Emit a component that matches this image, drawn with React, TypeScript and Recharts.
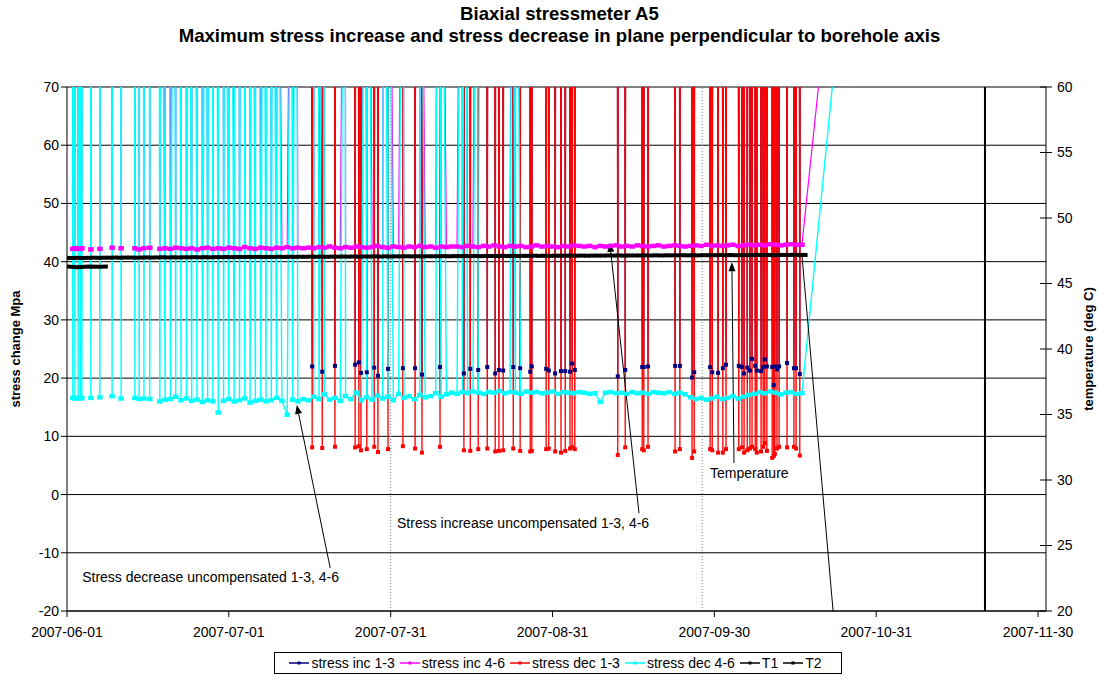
import {
  LineChart, Line, XAxis, YAxis, CartesianGrid, ReferenceLine,
} from 'recharts'

const W = 1099
const H = 679

const DAY_TICKS = [0, 30.5, 61, 91.5, 122, 152.5, 183]
const DAY_LABELS = ['2007-06-01', '2007-07-01', '2007-07-31', '2007-08-31', '2007-09-30', '2007-10-31', '2007-11-30']
const STRESS_TICKS = [-20, -10, 0, 10, 20, 30, 40, 50, 60, 70]
const TEMP_TICKS = [20, 25, 30, 35, 40, 45, 50, 55, 60]

// readings that saturate the gauge, far above the 70 MPa top of the plot
const OFF = 150
const DIP_HALF = 0.14

// first two weeks: 4-6 gauges only give valid readings now and then
const EARLY_DAYS = [1.1, 1.5, 2.1, 2.5, 2.8, 4.5, 6.2, 8.5, 10.2, 12.8, 13.6, 14.5, 15.6]
const EARLY_INC46 = [42.2, 42.3, 42.2, 42.2, 42.3, 42.1, 42.2, 42.4, 42.3, 42.3, 42.1, 42.3, 42.4]
const EARLY_DEC46 = [16.6, 16.5, 16.6, 16.5, 16.6, 16.6, 16.7, 16.9, 16.5, 16.6, 16.4, 16.5, 16.4]

// continuous record, one reading per day from day 17.5
const BASE_START = 17.5
const INC46_BASE = [
  42.2, 42.3, 42.2, 42.4, 42.3, 42.2, 42.3, 42.1, 42.3, 42.4, 42.2, 42.3, 42.2, 42.4,
  42.3, 42.2, 42.5, 42.3, 42.2, 42.4, 42.3, 42.2, 42.4, 42.3, 42.5, 42.3, 42.4, 42.3,
  42.4, 42.3, 42.5, 42.4, 42.6, 42.4, 42.3, 42.5, 42.4, 42.6, 42.5, 42.4, 42.5, 42.7,
  42.5, 42.4, 42.6, 42.5, 42.4, 42.6, 42.5, 42.7, 42.5, 42.6, 42.4, 42.6, 42.5, 42.6,
  42.6, 42.5, 42.7, 42.6, 42.5, 42.7, 42.6, 42.8, 42.6, 42.5, 42.7, 42.6, 42.7, 42.5,
  42.6, 42.8, 42.6, 42.7, 42.6, 42.5, 42.7, 42.6, 42.8, 42.7, 42.6, 42.7, 42.5, 42.7,
  42.6, 42.7, 42.8, 42.6, 42.7, 42.6, 42.8, 42.7, 42.6, 42.7, 42.8, 42.6, 42.7, 42.8,
  42.7, 42.6,
  42.7, 42.8, 42.7, 42.9, 42.7, 42.8, 42.7, 42.8, 42.9, 42.7, 42.8, 42.9,
  42.8, 42.9, 42.8, 43.0, 42.9, 42.8, 42.9, 43.0, 42.9, 42.9,
]
const DEC46_BASE = [
  16.0, 16.3, 16.4, 16.8, 16.2, 16.5, 16.1, 16.3, 15.9, 16.2, 16.0, 14.1, 16.1, 16.4,
  16.0, 16.2, 16.5, 15.8, 16.1, 16.3, 16.0, 16.2, 16.6, 16.1, 13.7, 16.3, 16.0, 16.4,
  16.2, 16.8, 16.4, 17.2, 16.3, 16.6, 16.1, 16.9, 16.4, 17.5, 16.2, 16.7, 16.3, 17.0,
  16.5, 16.8, 16.2, 17.3, 16.6, 16.9, 16.4, 17.1, 16.7, 16.9, 17.4, 16.8, 17.2, 17.5,
  17.3, 17.6, 17.4, 17.7, 17.5, 17.3, 17.6, 17.5, 17.8, 17.4, 17.6, 17.5, 17.3, 17.7,
  17.5, 17.6, 17.4, 17.5, 17.7, 17.3, 17.6, 17.5, 17.4, 17.6, 17.5, 17.3, 17.4, 15.9,
  17.5, 17.6, 17.4, 17.5, 17.3, 17.6, 17.4, 17.5, 17.3, 17.6, 17.5, 17.4, 17.6, 17.3,
  17.5, 17.2,
  16.7, 16.4, 16.6, 16.3, 16.5, 16.8, 16.4, 16.6, 16.9, 16.5, 16.8, 17.1,
  17.3, 17.6, 17.4, 17.7, 17.5, 17.2, 17.5, 17.6, 17.3, 17.4,
]
// days where the 4-6 readings jump off scale
const SPIKE46_DAYS = [
  17.3, 17.7, 18.5, 19.2, 20.2, 20.5, 21.1, 21.5, 22.1, 22.4, 23.0, 23.6, 24.1, 24.5,
  25.1, 25.4, 26.2, 26.8, 27.3, 27.7, 28.1, 28.6, 29.4, 29.8, 30.5, 30.9, 31.7, 32.4,
  32.8, 33.4, 33.7, 34.3, 34.9, 35.6, 36.2, 37.1, 37.7, 38.3, 38.8, 39.6, 42.4, 43.2,
  46.6, 47.3, 48.4, 52.4, 56.2, 56.7, 59.7, 60.5, 63.3, 66.5, 69.9, 70.5, 74.4, 75.0,
  77.3, 83.9, 84.6,
]

// 1-3 gauges are saturated except for these readings
const DIP13_DAYS = [
  46.2, 48.1, 50.5, 54.3, 55.0, 55.4, 56.5, 57.9, 58.6, 60.5, 63.3, 65.6, 66.9, 70.3,
  74.8, 76.0, 77.5, 79.2, 80.7, 81.4, 82.2, 84.1, 85.4, 87.3, 87.6, 90.3, 90.8, 92.0,
  93.1, 93.9, 94.8, 95.2, 95.7, 103.8, 105.2, 108.4, 108.7, 109.5, 114.6, 115.5, 117.8,
  118.2, 121.2, 121.6, 122.7, 123.6, 124.2, 126.6, 127.2, 127.6, 128.2, 128.7, 129.1,
  129.7, 130.0, 130.8, 131.2, 131.5, 131.9, 132.9, 133.2, 133.4, 133.8, 134.2, 135.7,
  137.0, 137.4, 138.1,
]
const INC13_VALUES = [
  22.0, 21.1, 22.1, 22.3, 22.7, 20.9, 21.0, 21.8, 20.4, 21.6, 21.7, 21.7, 20.6, 21.9,
  20.8, 21.6, 21.4, 21.9, 20.8, 21.4, 21.3, 21.9, 21.7, 21.1, 22.0, 21.6, 21.3, 20.8,
  21.2, 21.2, 21.1, 22.5, 21.4, 20.3, 21.4, 21.9, 21.9, 22.0, 22.1, 22.1, 20.1,
  21.0, 21.9, 21.0, 20.9, 21.7, 22.3, 22.1, 21.9, 20.8, 21.8, 21.3, 23.3,
  22.1, 21.3, 21.2, 21.9, 23.2, 22.0, 21.9, 18.8, 22.0, 21.5, 22.0, 22.6,
  21.7, 21.7, 20.7,
]
const DEC13_VALUES = [
  8.1, 8.0, 8.2, 8.1, 8.3, 7.6, 7.8, 8.2, 7.3, 7.8, 8.3, 7.9, 7.2, 8.2,
  7.6, 7.5, 7.8, 7.9, 7.4, 7.5, 7.6, 7.9, 7.5, 7.4, 7.5, 7.8, 7.9, 7.4,
  7.2, 7.5, 7.9, 8.1, 7.8, 6.8, 8.1, 7.8, 7.6, 8.2, 7.4, 7.8, 6.3,
  7.4, 7.8, 7.6, 7.2, 7.2, 7.8, 7.8, 8.1, 7.2, 7.6, 7.9, 8.2,
  7.8, 7.2, 7.4, 8.2, 8.8, 7.5, 6.3, 6.6, 7.0, 7.9, 8.2, 8.1,
  8.2, 7.9, 6.7,
]

// temperature T1, one reading per day from day 0
const T1_VALUES = [
  46.95, 46.95, 46.96, 46.95, 46.96, 46.97, 46.96, 46.97, 46.97, 46.98, 46.97, 46.98, 46.98, 46.97,
  46.98, 46.99, 46.98, 46.99, 47.0, 46.99, 47.0, 46.99, 47.0, 47.0, 47.01, 47.0, 47.01, 47.0,
  47.01, 47.01, 47.02, 47.01, 47.02, 47.02, 47.03, 47.02, 47.03, 47.02, 47.03, 47.03, 47.04, 47.03,
  47.04, 47.03, 47.04, 47.04, 47.05, 47.04, 47.05, 47.04, 47.05, 47.05, 47.06, 47.05, 47.06, 47.05,
  47.06, 47.06, 47.07, 47.06, 47.07, 47.06, 47.07, 47.07, 47.08, 47.07, 47.08, 47.07, 47.08, 47.08,
  47.08, 47.09, 47.08, 47.09, 47.09, 47.1, 47.09, 47.1, 47.09, 47.1, 47.1, 47.1, 47.11, 47.1,
  47.11, 47.1, 47.11, 47.11, 47.12, 47.11, 47.12, 47.11, 47.12, 47.12, 47.12, 47.13, 47.12, 47.13,
  47.12, 47.13, 47.13, 47.13, 47.14, 47.13, 47.14, 47.13, 47.14, 47.14, 47.14, 47.15, 47.14, 47.15,
  47.14, 47.15, 47.15, 47.15, 47.16, 47.15, 47.16, 47.15, 47.16, 47.16, 47.16, 47.17, 47.16, 47.17,
  47.16, 47.17, 47.17, 47.17, 47.18, 47.17, 47.18, 47.17, 47.18, 47.18, 47.18, 47.19, 47.18, 47.18,
]
const T2_DAYS = [-0.5, 2, 4, 6, 7.7]
const T2_VALUES = [46.3, 46.25, 46.3, 46.28, 46.3]

// last logged reading after the record breaks off
const END_DAY = 150
const END_INC46 = 143
const END_DEC46 = 123
const END_T1 = -6

const ANNOTATIONS = [
  { text: 'Stress decrease uncompensated 1-3, 4-6', from: { x: 49.6, y: -12.6 }, to: { x: 43.3, y: 15.4 }, dx: -248, dy: 14 },
  { text: 'Stress increase uncompensated 1-3, 4-6', from: { x: 107.8, y: -3.2 }, to: { x: 102.3, y: 43.2 }, dx: -242, dy: 15 },
  { text: 'Temperature', from: { x: 125.7, y: 5.4 }, to: { x: 125.3, y: 39.9 }, dx: -24, dy: 15 },
]

const COLORS = {
  inc13: '#000080', inc46: '#ff00ff', dec13: '#ff0000', dec46: '#00ffff', t1: '#000000', t2: '#000000',
}

const LEGEND_ITEMS = [
  { name: 'stress inc 1-3', color: COLORS.inc13 },
  { name: 'stress inc 4-6', color: COLORS.inc46 },
  { name: 'stress dec 1-3', color: COLORS.dec13 },
  { name: 'stress dec 4-6', color: COLORS.dec46 },
  { name: 'T1', color: COLORS.t1 },
  { name: 'T2', color: COLORS.t2 },
]

type Pt = { day: number; v: number }

function dips(days: number[], values: number[]): Pt[] {
  const out: Pt[] = []
  days.forEach((d, i) => {
    out.push({ day: d - DIP_HALF, v: OFF }, { day: d, v: values[i] }, { day: d + DIP_HALF, v: OFF })
  })
  return out
}

function record46(early: number[], base: number[], end: number): Pt[] {
  const cont: Pt[] = base.map((v, i) => ({ day: BASE_START + i, v }))
  SPIKE46_DAYS.forEach(d => cont.push({ day: d, v: OFF }))
  cont.sort((a, b) => a.day - b.day)
  return [...dips(EARLY_DAYS, early), ...cont, { day: END_DAY, v: end }]
}

const inc13Data = dips(DIP13_DAYS, INC13_VALUES)
const dec13Data = dips(DIP13_DAYS, DEC13_VALUES)
const inc46Data = record46(EARLY_INC46, INC46_BASE, END_INC46)
const dec46Data = record46(EARLY_DEC46, DEC46_BASE, END_DEC46)
const t1Data: Pt[] = [
  ...T1_VALUES.map((v, i) => ({ day: i, v })),
  { day: 138.5, v: 47.18 },
  { day: END_DAY, v: END_T1 },
]
const t2Data: Pt[] = T2_DAYS.map((d, i) => ({ day: d, v: T2_VALUES[i] }))

const squareDot = (color: string, w: number, h: number, lo: number, hi: number) => (p: any) => {
  const v = p.payload?.v
  if (v == null || v >= hi || v <= lo) return <g key={p.index} />
  return <rect key={p.index} x={p.cx - w / 2} y={p.cy - h / 2} width={w} height={h} fill={color} />
}

function TempTick(props: any) {
  const { x, y, payload } = props
  return (
    <g>
      <line x1={x - 6} x2={x + 6} y1={y} y2={y} stroke="#000" />
      <text x={x + 11} y={y} dy="0.35em" fontSize={14} fill="#000">{payload.value}</text>
    </g>
  )
}

const arrowShape = (text: string, dx: number, dy: number) => (p: any) => {
  const { x1, y1, x2, y2 } = p
  const ang = Math.atan2(y2 - y1, x2 - x1)
  const bx = x2 - 9 * Math.cos(ang)
  const by = y2 - 9 * Math.sin(ang)
  const px = -Math.sin(ang) * 3.5
  const py = Math.cos(ang) * 3.5
  return (
    <g>
      <line x1={x1} y1={y1} x2={bx} y2={by} stroke="#000" strokeWidth={1} />
      <polygon points={`${x2},${y2} ${bx + px},${by + py} ${bx - px},${by - py}`} fill="#000" />
      <text x={x1 + dx} y={y1 + dy} fontSize={14} fill="#000">{text}</text>
    </g>
  )
}

const axisTitle = (text: string, offset: number) => (p: any) => {
  const vb = p.viewBox
  const cx = vb.x + offset
  const cy = vb.y + vb.height / 2
  return (
    <text x={cx} y={cy} transform={`rotate(-90 ${cx} ${cy})`} textAnchor="middle" dominantBaseline="central"
      fontSize={13} fontWeight="bold" fill="#000">{text}</text>
  )
}

export default function App() {
  return (
    <div style={{
      position: 'absolute', left: 0, top: 0, width: W, height: H, background: '#fff',
      fontFamily: '"Liberation Sans", Arial, sans-serif', color: '#000',
    }}>
      <div style={{
        position: 'absolute', top: 3, left: 10, width: W, textAlign: 'center',
        fontWeight: 'bold', fontSize: 18.6, lineHeight: '22px',
      }}>
        <div>Biaxial stressmeter A5</div>
        <div>Maximum stress increase and stress decrease in plane perpendicular to borehole axis</div>
      </div>

      <LineChart width={W} height={H} margin={{ top: 87, right: 0, bottom: 38, left: 0 }}>
        <CartesianGrid vertical={false} stroke="#000" />
        <XAxis dataKey="day" type="number" domain={[0, 184.5]} ticks={DAY_TICKS} interval={0}
          tickFormatter={(v: number) => DAY_LABELS[DAY_TICKS.indexOf(v)] ?? ''}
          allowDataOverflow height={30} tickMargin={10} tickSize={6}
          tick={{ fontSize: 14, fill: '#000' }} stroke="#000" />
        <YAxis yAxisId={0} domain={[-20, 70]} ticks={STRESS_TICKS} interval={0} allowDataOverflow width={67}
          tick={{ fontSize: 14, fill: '#000' }} stroke="#000" tickSize={6}
          label={axisTitle('stress change Mpa', 15)} />
        <YAxis yAxisId={1} orientation="right" domain={[20, 60]} ticks={TEMP_TICKS} interval={0} allowDataOverflow
          width={53} tickSize={0} tickMargin={0} tickLine={false} tick={<TempTick />} stroke="#000"
          label={axisTitle('temperature (deg C)', 42)} />

        <ReferenceLine x={61} stroke="#808080" strokeDasharray="1 2" />
        <ReferenceLine x={119.7} stroke="#808080" strokeDasharray="1 2" />
        <ReferenceLine x={173} stroke="#000" strokeWidth={2} />

        <Line data={inc13Data} dataKey="v" yAxisId={0} stroke={COLORS.inc13} strokeWidth={1.2}
          dot={squareDot(COLORS.inc13, 4, 4, -20, 70)} isAnimationActive={false} />
        <Line data={inc46Data} dataKey="v" yAxisId={0} stroke={COLORS.inc46} strokeWidth={1.2}
          dot={squareDot(COLORS.inc46, 5.5, 4.5, -20, 70)} isAnimationActive={false} />
        <Line data={dec13Data} dataKey="v" yAxisId={0} stroke={COLORS.dec13} strokeWidth={1.3}
          dot={squareDot(COLORS.dec13, 4, 4, -20, 70)} isAnimationActive={false} />
        <Line data={dec46Data} dataKey="v" yAxisId={0} stroke={COLORS.dec46} strokeWidth={1.4}
          dot={squareDot(COLORS.dec46, 5.5, 4.5, -20, 70)} isAnimationActive={false} />
        <Line data={t1Data} dataKey="v" yAxisId={1} stroke={COLORS.t1} strokeWidth={1}
          dot={squareDot(COLORS.t1, 6, 4, 20, 60)} isAnimationActive={false} />
        <Line data={t2Data} dataKey="v" yAxisId={1} stroke={COLORS.t2} strokeWidth={4}
          dot={false} isAnimationActive={false} />

        {ANNOTATIONS.map(a => (
          <ReferenceLine key={a.text} yAxisId={0} segment={[a.from, a.to]}
            shape={arrowShape(a.text, a.dx, a.dy)} />
        ))}
      </LineChart>

      <div style={{
        position: 'absolute', left: 274, top: 652, width: 566, height: 20, border: '1px solid #000',
        display: 'flex', alignItems: 'center', justifyContent: 'center', fontSize: 14, whiteSpace: 'nowrap',
      }}>
        {LEGEND_ITEMS.map(it => (
          <span key={it.name} style={{ display: 'inline-flex', alignItems: 'center', marginRight: 5 }}>
            <svg width={20} height={8} style={{ marginRight: 2 }}>
              <line x1={0} x2={20} y1={4} y2={4} stroke={it.color} strokeWidth={1.5} />
              <rect x={8.5} y={2.5} width={3} height={3} fill={it.color} />
            </svg>
            {it.name}
          </span>
        ))}
      </div>
    </div>
  )
}
